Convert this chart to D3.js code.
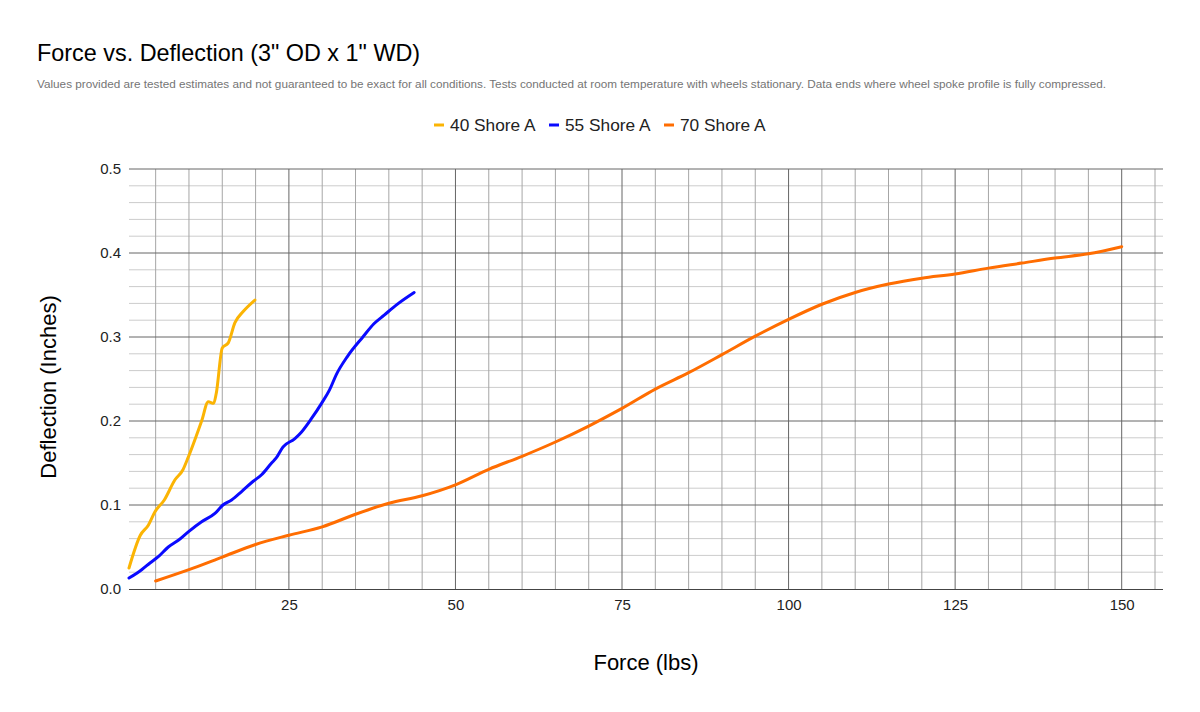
<!DOCTYPE html>
<html><head><meta charset="utf-8">
<script src="https://cdn.jsdelivr.net/npm/d3@7"></script>
<style>body{margin:0;background:#fff}svg{display:block;font-family:"Liberation Sans",Arial,sans-serif}</style>
</head><body>
<svg id="chart" width="1200" height="712"></svg>
<script>
const title = 'Force vs. Deflection (3" OD x 1" WD)';
const subtitle = 'Values provided are tested estimates and not guaranteed to be exact for all conditions. Tests conducted at room temperature with wheels stationary. Data ends where wheel spoke profile is fully compressed.';
const seriesNames = ["40 Shore A", "55 Shore A", "70 Shore A"];
const seriesColors = ["#fbb404", "#0a0aff", "#ff6d01"];
const xTicks = [25, 50, 75, 100, 125, 150];
const yTicks = [0, 0.1, 0.2, 0.3, 0.4, 0.5];

const shore40Force = [1, 2.7, 3.9, 4.9, 6.3, 7.9, 9.1, 9.9, 11.9, 12.9, 13.7, 14.1, 15.0, 15.9, 16.9, 18.1, 19.9];
const shore40Defl  = [0.025, 0.064, 0.076, 0.092, 0.106, 0.130, 0.142, 0.157, 0.200, 0.223, 0.221, 0.233, 0.287, 0.293, 0.317, 0.330, 0.344];

const shore55Force = [1, 2.9, 4.15, 5.4, 6.9, 8.4, 9.9, 11.9, 13.9, 15.1, 16.4, 17.9, 19.6, 20.9, 22.4, 23.1, 24.1, 25.9, 26.9, 28.4, 29.9, 31.1, 32.1, 33.8, 36.1, 37.8, 39.3, 41.1, 43.8];
const shore55Defl  = [0.013, 0.023, 0.031, 0.0385, 0.050, 0.058, 0.068, 0.080, 0.090, 0.100, 0.106, 0.116, 0.128, 0.136, 0.150, 0.156, 0.169, 0.179, 0.187, 0.203, 0.221, 0.237, 0.255, 0.277, 0.300, 0.316, 0.326, 0.338, 0.353];

const shore70Force = [5, 10, 15, 20, 25, 30, 35, 40, 45, 50, 55, 60, 65, 70, 75, 80, 85, 90, 95, 100, 105, 110, 115, 120, 125, 130, 135, 140, 145, 150];
const shore70Defl  = [0.0095, 0.023, 0.038, 0.053, 0.064, 0.074, 0.089, 0.102, 0.111, 0.124, 0.1425, 0.158, 0.175, 0.194, 0.215, 0.238, 0.2575, 0.279, 0.301, 0.321, 0.339, 0.353, 0.363, 0.370, 0.375, 0.382, 0.388, 0.394, 0.399, 0.4075];

const series = [
  {name: seriesNames[0], color: seriesColors[0], xs: shore40Force, ys: shore40Defl},
  {name: seriesNames[1], color: seriesColors[1], xs: shore55Force, ys: shore55Defl},
  {name: seriesNames[2], color: seriesColors[2], xs: shore70Force, ys: shore70Defl}
];

const svg = d3.select("#chart");
const L = 129, R = 1163, T = 169, B = 589;
const x = d3.scaleLinear().domain([1, 156.2]).range([L, R]);
const y = d3.scaleLinear().domain([0, 0.5]).range([B, T]);

svg.append("text").attr("x", 37).attr("y", 61).attr("font-size", 23.4).attr("fill", "#000").text(title);
svg.append("text").attr("x", 37).attr("y", 88).attr("font-size", 11).attr("fill", "#757575")
  .attr("textLength", 1069).attr("lengthAdjust", "spacingAndGlyphs").text(subtitle);

// grid
const g = svg.append("g");
const minorY = d3.range(0.02, 0.5, 0.02).filter(v => Math.abs(v*10 - Math.round(v*10)) > 1e-6);
g.selectAll(".hmin").data(minorY).join("line")
  .attr("x1", L).attr("x2", R).attr("y1", d => y(d)).attr("y2", d => y(d))
  .attr("stroke", "#cccccc").attr("stroke-width", 1);
const minorX = d3.range(5, 156, 5).filter(v => v % 25 !== 0);
g.selectAll(".vmin").data(minorX).join("line")
  .attr("x1", d => x(d)).attr("x2", d => x(d)).attr("y1", T).attr("y2", B)
  .attr("stroke", "#a6a6a6").attr("stroke-width", 1);
g.selectAll(".vmaj").data(xTicks).join("line")
  .attr("x1", d => x(d)).attr("x2", d => x(d)).attr("y1", T).attr("y2", B)
  .attr("stroke", "#666").attr("stroke-width", 1);
g.selectAll(".hmaj").data(yTicks.filter(v => v > 0)).join("line")
  .attr("x1", L).attr("x2", R).attr("y1", d => y(d)).attr("y2", d => y(d))
  .attr("stroke", "#666").attr("stroke-width", 1);

// axes
const xAxis = svg.append("g").attr("transform", `translate(0,${B})`)
  .call(d3.axisBottom(x).tickValues(xTicks).tickSize(0).tickPadding(10).tickFormat(d3.format("d")));
xAxis.select(".domain").attr("stroke", "#444").attr("d", `M${L},0.5H${R}`);
xAxis.selectAll("text").attr("font-size", 15).attr("fill", "#222").attr("font-family", "Liberation Sans, Arial, sans-serif");

const yAxis = svg.append("g").attr("transform", `translate(${L},0)`)
  .call(d3.axisLeft(y).tickValues(yTicks).tickSize(0).tickPadding(8).tickFormat(d3.format(".1f")));
yAxis.select(".domain").remove();
yAxis.selectAll("text").attr("font-size", 15).attr("fill", "#222").attr("font-family", "Liberation Sans, Arial, sans-serif");

// lines
const line = d3.line().x(d => x(d[0])).y(d => y(d[1])).curve(d3.curveMonotoneX);
series.forEach(s => {
  const pts = s.xs.map((v, i) => [v, s.ys[i]]);
  svg.append("path").datum(pts).attr("d", line).attr("fill", "none")
    .attr("stroke", s.color).attr("stroke-width", 3).attr("stroke-linejoin", "round").attr("stroke-linecap", "round");
});

// axis titles
svg.append("text").attr("x", 646).attr("y", 670).attr("text-anchor", "middle").attr("font-size", 22).attr("fill", "#000").text("Force (lbs)");
svg.append("text").attr("transform", "translate(56,387) rotate(-90)").attr("text-anchor", "middle").attr("font-size", 22).attr("fill", "#000").text("Deflection (Inches)");

// legend
const leg = svg.append("g");
const items = leg.selectAll("g").data(series).join("g");
items.append("line").attr("x1", 0).attr("x2", 10).attr("y1", 0).attr("y2", 0).attr("stroke", d => d.color).attr("stroke-width", 3);
items.append("text").attr("x", 16).attr("y", 6).attr("font-size", 17.3).attr("fill", "#222").text(d => d.name);
const widths = [];
items.each(function(){ widths.push(this.getBBox().width); });
const gap = 13;
const total = d3.sum(widths) + gap * (widths.length - 1);
let start = 600 - total / 2;
items.attr("transform", (d, i) => { const t = `translate(${start},125)`; start += widths[i] + gap; return t; });
</script>
</body></html>
